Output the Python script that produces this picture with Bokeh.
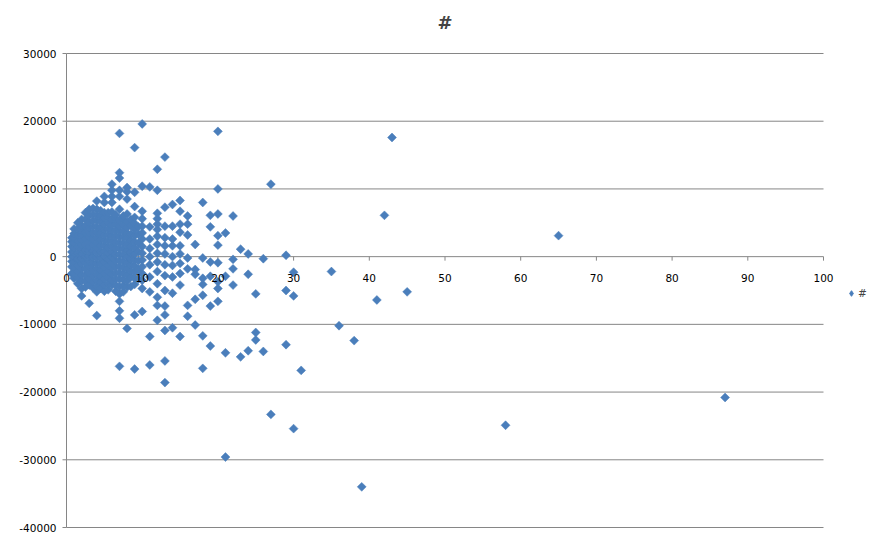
import math
from bokeh.core.properties import value
from bokeh.embed import file_html
from bokeh.models import Label, Legend, LegendItem, Range1d
from bokeh.plotting import figure
from bokeh.resources import INLINE

x_groups = [0.7, 1, 1.5, 2, 2.5, 3, 3.5, 4, 4.5, 5, 5.5, 6, 6.5, 7, 7.5, 8, 8.5, 9, 9.5, 10,
            11, 12, 13, 14, 15, 16, 17, 18, 19, 20,
            21, 22, 23, 24, 25, 26, 27, 29, 30, 31,
            35, 36, 38, 39, 41, 42, 43, 45, 58, 65, 87]
y_groups = [
    [-2500, -1500, -700, 0, 700, 1500, 2200, 2800],
    [-3200, -2400, -1600, -800, 0, 600, 1300, 2000, 2700, 3400, 4100],
    [-4000, -3100, -2200, -1300, -400, 500, 1400, 2300, 3200, 4100, 5000],
    [-5800, -4700, -3600, -2700, -1800, -1000, -300, 400, 1100, 1800, 2500, 3200, 3900, 4600, 5500],
    [-4500, -3600, -2700, -1800, -900, 0, 900, 1800, 2700, 3600, 4500, 5500, 6500],
    [-6900, -4200, -3300, -2400, -1500, -700, 100, 800, 1500, 2200, 2900, 3600, 4300, 5100, 6100, 7000],
    [-4600, -3700, -2800, -1900, -1000, -100, 800, 1700, 2600, 3500, 4400, 5300, 6200, 7100],
    [-8700, -5200, -4400, -3500, -2600, -1800, -1000, -200, 600, 1300, 2000, 2800, 3600, 4400, 5300, 6100, 7000, 8200],
    [-4700, -3800, -2900, -2000, -1100, -200, 700, 1600, 2500, 3400, 4300, 5200, 6000, 6800],
    [-5100, -4200, -3300, -2500, -1600, -800, 0, 800, 1600, 2400, 3200, 4000, 4800, 5700, 6500, 8000, 8900],
    [-4900, -4000, -3100, -2200, -1300, -400, 500, 1400, 2300, 3200, 4100, 5000, 5800, 6500],
    [-4200, -3500, -2600, -1700, -900, -100, 700, 1500, 2300, 3100, 3900, 4700, 5500, 6600, 8000, 8900, 9800, 10700],
    [-5100, -4200, -3300, -2400, -1500, -600, 300, 1200, 2100, 3000, 3900, 4800, 5600, 6200],
    [-16200, -9100, -8000, -6600, -5500, -4400, -3300, -2400, -1500, -600, 300, 1200, 2000, 2900, 3700, 4500,
     5400, 7000, 8900, 9800, 11600, 12400, 18200],
    [-5200, -4300, -3400, -2500, -1600, -700, 200, 1100, 2000, 2900, 3800, 4700, 5500, 6000],
    [-10600, -4500, -3600, -2700, -1800, -900, 0, 900, 1800, 2700, 3500, 4300, 5100, 6300, 8500, 9600, 10200],
    [-4400, -3000, -2100, -1200, -300, 600, 1500, 2400, 3300, 4600, 5500],
    [-16600, -8600, -4100, -3200, -2300, -1400, -500, 400, 1300, 2200, 3100, 4000, 4900, 5800, 7400, 9500, 16100],
    [-3300, -1900, -600, 700, 2000, 3300, 4400],
    [-8100, -4700, -3500, -2500, -1500, -500, 500, 1500, 2600, 3500, 4500, 5600, 6700, 10400, 19600],
    [-16000, -11800, -5200, -3000, -1200, 0, 1200, 2600, 4400, 10300],
    [-9400, -7200, -6000, -4000, -2200, -800, 500, 1800, 3000, 4000, 4800, 5600, 6400, 9800, 12900],
    [-18600, -15400, -10900, -8600, -7300, -5000, -2800, -1200, 400, 1600, 2800, 4500, 7300, 14700],
    [-10500, -5400, -3000, -1300, 0, 1600, 2600, 4500, 7700],
    [-11800, -4200, -2500, -1000, 400, 1600, 3600, 4800, 6700, 8300],
    [-8800, -7200, -1800, -200, 3200, 4800, 6000],
    [-10100, -6300, -2600, -1900, 1800],
    [-16500, -11700, -5700, -4100, -3200, -200, 8000],
    [-13200, -7300, -2900, -800, 4400, 6100],
    [-6600, -4700, -3700, -900, 1700, 3100, 6300, 10000, 18500],
    [-29600, -14200, -2900, 3500],
    [-4200, -1800, -400, 6000],
    [-14800, 1100],
    [-13900, -2600, 400],
    [-12300, -11200, -5500],
    [-14000, -300],
    [-23300, 10700],
    [-13000, -5000, 200],
    [-25400, -5800, -2300],
    [-16800],
    [-2200],
    [-10200],
    [-12400],
    [-34000],
    [-6400],
    [6100],
    [17600],
    [-5200],
    [-24900],
    [3100],
    [-20800],
]
x_ticks = [0, 10, 20, 30, 40, 50, 60, 70, 80, 90, 100]
y_ticks = [-40000, -30000, -20000, -10000, 0, 10000, 20000, 30000]
x_tick_labels = [str(t) for t in x_ticks]
y_tick_labels = [str(t) for t in y_ticks]

xs, ys = [], []
for xv, col in zip(x_groups, y_groups):
    xs += [xv] * len(col)
    ys += col

FONT = "DejaVu Sans"
GRID = "#868686"
BLUE = "#4a7ebb"

# canvas and where the plot area sits on it (pixels)
W, H = 869, 534
AX_L, AX_R, AX_T, AX_B = 66, 823, 53, 527
x0, x1 = x_ticks[0], x_ticks[-1]
y0, y1 = y_ticks[0], y_ticks[-1]
kx = (x1 - x0) / (AX_R - AX_L)
ky = (y1 - y0) / (AX_B - AX_T)

p = figure(width=W, height=H, output_backend="svg", toolbar_location=None,
           x_range=Range1d(x0 - AX_L * kx, x1 + (W - AX_R) * kx),
           y_range=Range1d(y0 - (H - AX_B) * ky, y1 + AX_T * ky),
           min_border=0)
p.outline_line_color = None
p.axis.visible = False
p.grid.visible = False

# horizontal gridlines and the vertical axis
p.segment(x0=[x0] * len(y_ticks), y0=y_ticks, x1=[x1] * len(y_ticks), y1=y_ticks,
          line_color=GRID, line_width=1)
p.segment(x0=[x0], y0=[y0], x1=[x0], y1=[y1], line_color=GRID, line_width=1)
p.ray(x=[x0] * len(y_ticks), y=y_ticks, length=4, length_units="screen",
      angle=math.pi, line_color=GRID, line_width=1)
p.text(x=[x0] * len(y_ticks), y=y_ticks, text=y_tick_labels, x_offset=-10,
       text_align="right", text_baseline="middle", text_color="black",
       text_font=value(FONT), text_font_size=value("10.5px"))

# x axis crossing at zero
p.ray(x=x_ticks, y=[0] * len(x_ticks), length=4, length_units="screen",
      angle=-math.pi / 2, line_color=GRID, line_width=1)

p.scatter(xs, ys, marker="square", size=6.3, angle=math.pi / 4,
          fill_color=BLUE, line_color=BLUE, line_width=0.5)

p.text(x=x_ticks, y=[0] * len(x_ticks), text=x_tick_labels, y_offset=21,
       text_align="center", text_baseline="middle", text_color="black",
       text_font=value(FONT), text_font_size=value("10.5px"))

# legend swatch only (no points drawn)
key = p.scatter([float("nan")], [float("nan")], marker="diamond", size=9,
                fill_color=BLUE, line_color=BLUE)
leg = Legend(items=[LegendItem(label="#", renderers=[key])], location=(844, H - 293 - 7))
leg.padding = 0
leg.margin = 0
leg.spacing = 0
leg.border_line_color = None
leg.background_fill_alpha = 0
leg.glyph_width = 14
leg.glyph_height = 14
leg.label_standoff = 0
leg.label_text_font = FONT
leg.label_text_font_size = "10.5px"
p.add_layout(leg)

p.add_layout(Label(x=(AX_L + AX_R) / 2, y=H - 22, x_units="screen", y_units="screen",
                   text="#", text_align="center", text_baseline="middle",
                   text_font=FONT, text_font_size="18px", text_font_style="bold"))

open("out.html", "w").write(file_html(p, INLINE))
